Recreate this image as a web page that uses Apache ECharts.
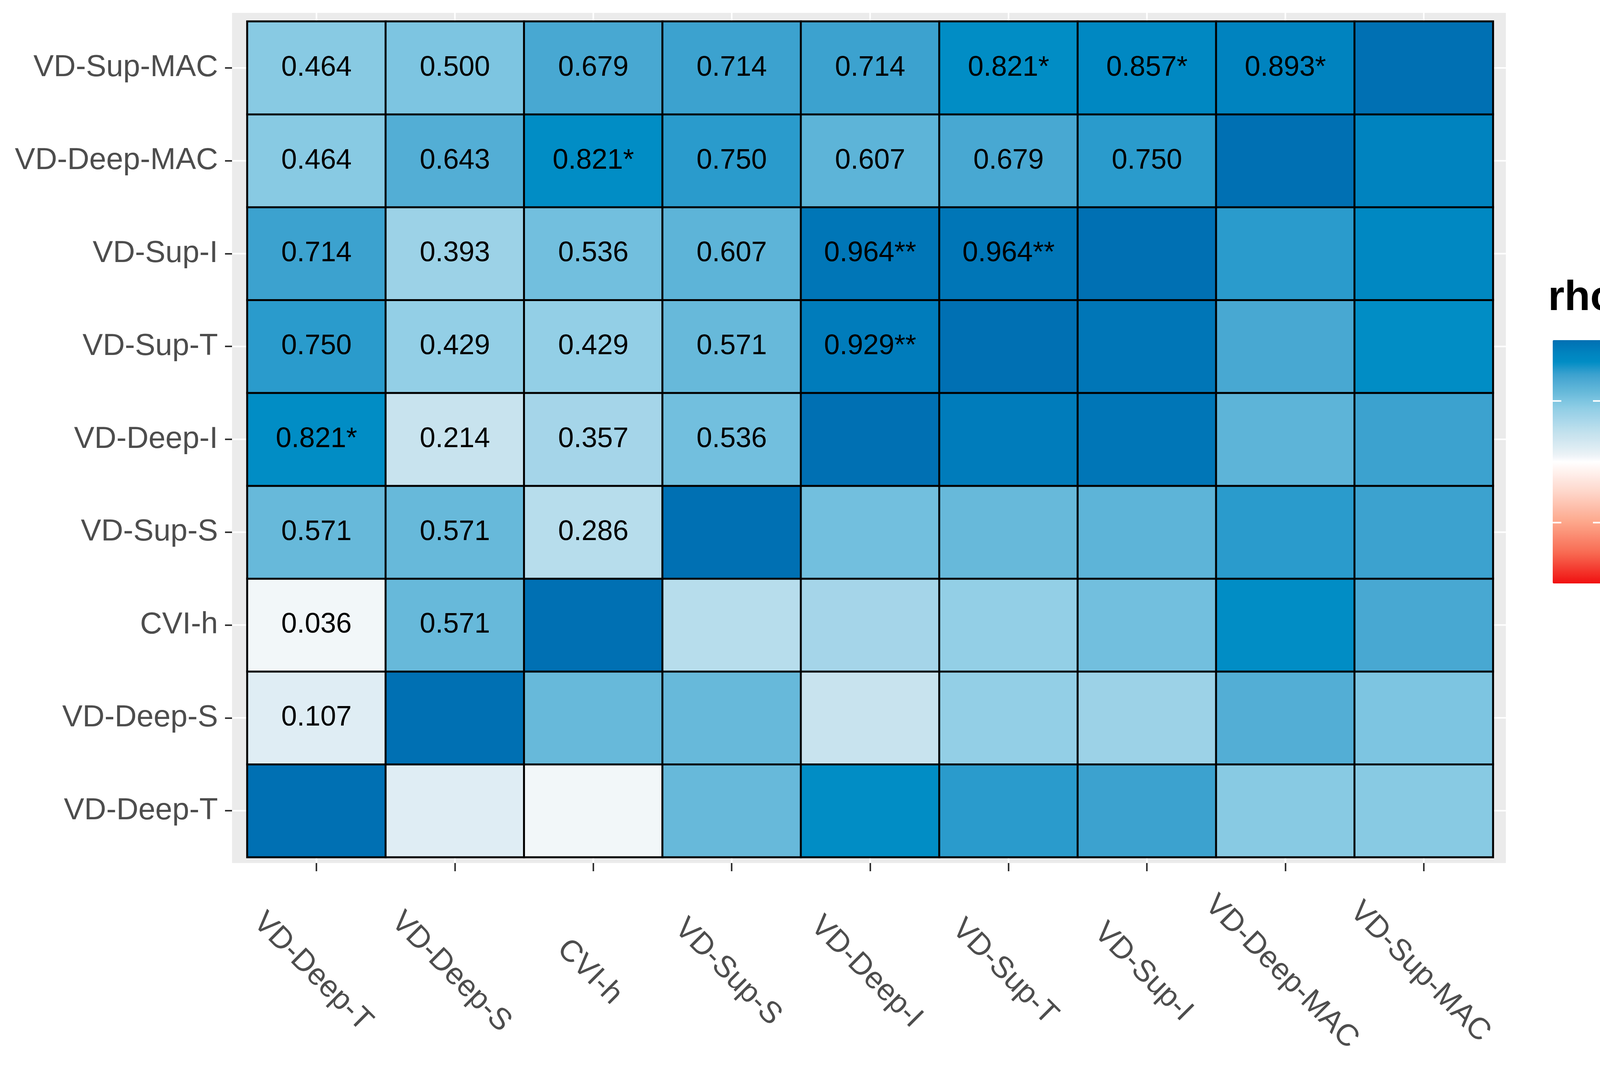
<!DOCTYPE html>
<html>
<head>
<meta charset="utf-8">
<script src="https://cdn.jsdelivr.net/npm/echarts@6/dist/echarts.min.js"></script>
<style>
html,body{margin:0;padding:0;background:#ffffff;}
#chart{width:4312px;height:2740px;}
</style>
</head>
<body>
<div id="chart"></div>
<script>
// ---- data ----
const variables = ['VD-Deep-T','VD-Deep-S','CVI-h','VD-Sup-S','VD-Deep-I','VD-Sup-T','VD-Sup-I','VD-Deep-MAC','VD-Sup-MAC'];
// Spearman rho of each variable with the variables listed before it
const rhoDeepT   = [];
const rhoDeepS   = [0.107];
const rhoCVIh    = [0.036, 0.571];
const rhoSupS    = [0.571, 0.571, 0.286];
const rhoDeepI   = [0.821, 0.214, 0.357, 0.536];
const rhoSupT    = [0.750, 0.429, 0.429, 0.571, 0.929];
const rhoSupI    = [0.714, 0.393, 0.536, 0.607, 0.964, 0.964];
const rhoDeepMAC = [0.464, 0.643, 0.821, 0.750, 0.607, 0.679, 0.750];
const rhoSupMAC  = [0.464, 0.500, 0.679, 0.714, 0.714, 0.821, 0.857, 0.893];
// significance marks
const sigDeepT   = [];
const sigDeepS   = [''];
const sigCVIh    = ['', ''];
const sigSupS    = ['', '', ''];
const sigDeepI   = ['*', '', '', ''];
const sigSupT    = ['', '', '', '', '**'];
const sigSupI    = ['', '', '', '', '**', '**'];
const sigDeepMAC = ['', '', '*', '', '', '', ''];
const sigSupMAC  = ['', '', '', '', '', '*', '*', '*'];
const diagonalRho = 1;
const legendTicks = [1.0, 0.5, 0.0, -0.5, -1.0];

const rhoRows = [rhoDeepT, rhoDeepS, rhoCVIh, rhoSupS, rhoDeepI, rhoSupT, rhoSupI, rhoDeepMAC, rhoSupMAC];
const sigRows = [sigDeepT, sigDeepS, sigCVIh, sigSupS, sigDeepI, sigSupT, sigSupI, sigDeepMAC, sigSupMAC];

// build heatmap cells [x, y, rho, label]; matrix is symmetric, labels only where x < y
const cells = [];
for (let y = 0; y < variables.length; y++) {
  for (let x = 0; x < variables.length; x++) {
    let v, lab = '';
    if (x < y) { v = rhoRows[y][x]; lab = v.toFixed(3) + sigRows[y][x]; }
    else if (x === y) { v = diagonalRho; }
    else { v = rhoRows[x][y]; }
    cells.push([x, y, v, lab]);
  }
}

// ---- colour scale (style) ----
const scaleStops = [
  [-1, '#F01010'], [-0.75, '#F86A52'], [-0.5, '#FDA68A'], [-0.25, '#FED6CA'], [0, '#FFFFFF'],
  [0.05, '#EDF3F7'], [0.107, '#DFEDF4'], [0.214, '#C8E3EE'], [0.286, '#B7DDEC'], [0.357, '#A5D5E9'],
  [0.429, '#93CFE6'], [0.5, '#7DC5E1'], [0.571, '#67B9DA'], [0.643, '#53AED5'],
  [0.714, '#3DA2CF'], [0.75, '#2A9BCC'], [0.821, '#008DC5'], [0.893, '#0083BF'],
  [0.964, '#0076B7'], [1, '#0070B3']
];
function hex2rgb(h){return [parseInt(h.substr(1,2),16),parseInt(h.substr(3,2),16),parseInt(h.substr(5,2),16)];}
function sampleScale(t){
  for (let k = 0; k < scaleStops.length - 1; k++) {
    const a = scaleStops[k], b = scaleStops[k+1];
    if (t >= a[0] && t <= b[0]) {
      const f = (t - a[0]) / (b[0] - a[0]);
      const ca = hex2rgb(a[1]), cb = hex2rgb(b[1]);
      const c = ca.map((q, i) => Math.round(q + (cb[i] - q) * f));
      return 'rgb(' + c.join(',') + ')';
    }
  }
  return scaleStops[scaleStops.length-1][1];
}
const nSamples = 401;
const paletteColors = [];
for (let k = 0; k < nSamples; k++) paletteColors.push(sampleScale(-1 + 2 * k / (nSamples - 1)));

// ---- layout (style) ----
const GRID = {left: 633, top: 55, width: 3189, height: 2140};
const PAD = {left: 39, right: 33, top: 22, bottom: 15};
const LEG = {left: 3975, top: 871, width: 125, height: 623};
const FONT = 'Liberation Sans, Arial, sans-serif';

const chart = echarts.init(document.getElementById('chart'));
chart.setOption({
  backgroundColor: '#ffffff',
  animation: false,
  grid: {left: GRID.left, top: GRID.top, width: GRID.width, height: GRID.height, containLabel: false},
  xAxis: {
    type: 'category', data: variables, offset: PAD.bottom,
    axisLine: {show: false},
    axisTick: {show: true, alignWithLabel: true, length: 21, lineStyle: {color: '#333333', width: 4}},
    axisLabel: {interval: 0, rotate: -45, align: 'center', verticalAlign: 'middle', margin: 289,
      padding: [28, 28, 0, 0], fontSize: 78, color: '#4D4D4D', fontFamily: FONT},
    splitLine: {show: false}
  },
  yAxis: {
    type: 'category', data: variables, offset: PAD.left,
    axisLine: {show: false},
    axisTick: {show: true, alignWithLabel: true, length: 18, lineStyle: {color: '#333333', width: 4}},
    axisLabel: {interval: 0, margin: 36, fontSize: 78, color: '#4D4D4D', fontFamily: FONT},
    splitLine: {show: false}
  },
  visualMap: {
    type: 'continuous', min: -1, max: 1, dimension: 2, calculable: false,
    left: LEG.left, top: LEG.top, itemWidth: LEG.width, itemHeight: LEG.height,
    padding: 0, text: null, showLabel: false, hoverLink: false,
    inRange: {color: paletteColors}
  },
  series: [{
    type: 'heatmap', data: cells,
    itemStyle: {borderColor: '#000000', borderWidth: 5},
    label: {show: true, formatter: p => p.data[3], fontSize: 72, color: '#000000', fontFamily: FONT},
    emphasis: {disabled: true}
  }]
});

// ---- panel background, grid lines and legend text ----
const gl = [];
gl.push({type: 'rect', z: -10, silent: true,
  shape: {x: GRID.left - PAD.left, y: GRID.top - PAD.top,
          width: GRID.width + PAD.left + PAD.right, height: GRID.height + PAD.top + PAD.bottom},
  style: {fill: '#EBEBEB'}});
variables.forEach(v => {
  const px = chart.convertToPixel({xAxisIndex: 0}, v);
  const py = chart.convertToPixel({yAxisIndex: 0}, v);
  gl.push({type: 'line', z: -9, silent: true,
    shape: {x1: px, y1: GRID.top - PAD.top, x2: px, y2: GRID.top + GRID.height + PAD.bottom},
    style: {stroke: '#FFFFFF', lineWidth: 4}});
  gl.push({type: 'line', z: -9, silent: true,
    shape: {x1: GRID.left - PAD.left, y1: py, x2: GRID.left + GRID.width + PAD.right, y2: py},
    style: {stroke: '#FFFFFF', lineWidth: 4}});
});
gl.push({type: 'text', z: 10, silent: true, x: 3963, y: 764,
  style: {text: 'rho', fontSize: 108, fontWeight: 'bold', fill: '#000000', fontFamily: FONT,
          textAlign: 'left', textVerticalAlign: 'middle'}});
legendTicks.forEach(t => {
  const y = LEG.top + (1 - t) / 2 * LEG.height;
  gl.push({type: 'text', z: 10, silent: true, x: 4140, y: y + 4,
    style: {text: t.toFixed(1), fontSize: 77, fill: '#000000', fontFamily: FONT,
            textAlign: 'left', textVerticalAlign: 'middle'}});
  if (t < 1 && t > -1) {
    gl.push({type: 'line', z: 10, silent: true,
      shape: {x1: LEG.left, y1: y, x2: LEG.left + 22, y2: y}, style: {stroke: '#FFFFFF', lineWidth: 4}});
    gl.push({type: 'line', z: 10, silent: true,
      shape: {x1: LEG.left + LEG.width - 22, y1: y, x2: LEG.left + LEG.width, y2: y}, style: {stroke: '#FFFFFF', lineWidth: 4}});
  }
});
chart.setOption({graphic: {elements: gl}});
</script>
</body>
</html>
